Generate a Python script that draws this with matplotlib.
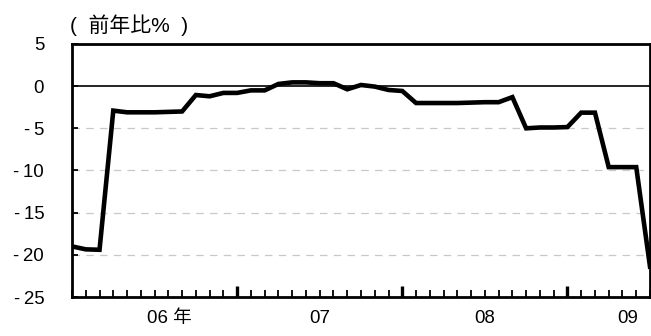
import matplotlib
matplotlib.use("Agg")
import matplotlib.pyplot as plt
import numpy as np

plt.rcParams['font.family'] = ['Liberation Sans', 'Noto Sans CJK JP', 'DejaVu Sans']

# monthly values (% yoy), month index 0 = start of 2006
values = [-19.0, -19.35, -19.4, -2.9, -3.1, -3.1, -3.1, -3.05, -3.0, -1.05,
          -1.2, -0.8, -0.8, -0.5, -0.5, 0.26, 0.45, 0.45, 0.35, 0.35,
          -0.37, 0.14, -0.05, -0.45, -0.57, -2.0, -2.0, -2.0, -2.0, -1.95,
          -1.9, -1.9, -1.3, -5.0, -4.9, -4.9, -4.85, -3.14, -3.14, -9.6,
          -9.6, -9.6, -21.4]
year_labels = ["06 年", "07", "08", "09"]
year_label_pos = [7.05, 18.0, 30.0, 40.4]
yticks = [5, 0, -5, -10, -15, -20, -25]
ylabel_text = "(  前年比%  )"

fig = plt.figure(figsize=(6.51, 3.36), dpi=100)
ax = fig.add_axes([72/651, 1-297/336, (650-72)/651, (297-44)/336])

x = np.arange(len(values))
ax.plot(x, values, color='black', lw=3.3, solid_joinstyle='miter', zorder=3)
ax.axhline(0, color='black', lw=1.2, zorder=2)
for g in [-5, -10, -15, -20]:
    ax.axhline(g, color='#c8c8c8', lw=0.9, ls=(0, (6, 5)), zorder=1)

ax.set_xlim(0, 42)
ax.set_ylim(-25, 5)
ax.set_yticks(yticks)
ax.set_yticklabels([str(v) if v >= 0 else "-\u2009" + str(-v) for v in yticks])
ax.set_xticks([12, 24, 36])
ax.set_xticks(np.arange(0, 43), minor=True)
ax.set_xticklabels([])
ax.tick_params(axis='x', which='major', direction='in', length=8, width=2.4)
ax.tick_params(axis='x', which='minor', direction='in', length=5, width=1.3)
ax.tick_params(axis='y', direction='in', length=4, width=1.3, labelsize=13.4, pad=20)
for s in ax.spines.values():
    s.set_linewidth(2.0)

for lbl, pos in zip(year_labels, year_label_pos):
    ax.text(pos, -0.085, lbl, transform=ax.get_xaxis_transform(), ha='center', va='center',
            fontsize=13.4)

fig.text(70/651, 1-25/336, ylabel_text, ha='left', va='center', fontsize=15)

fig.savefig("out.png", dpi=100)
